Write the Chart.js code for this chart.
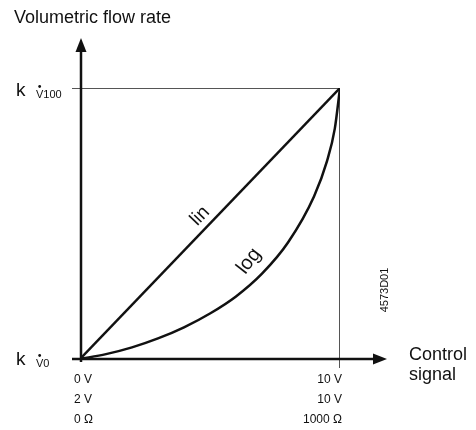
<!DOCTYPE html>
<html><head><meta charset="utf-8">
<script src="https://cdn.jsdelivr.net/npm/chart.js@4/dist/chart.umd.min.js"></script>
<style>html,body{margin:0;padding:0;background:#fff;overflow:hidden}</style>
</head><body>
<canvas id="c" width="476" height="430" style="width:476px;height:430px;display:block"></canvas>
<script>
// Data (control signal 0..10, flow 0..100 %)
const linX = [0, 10];
const linY = [0, 100];
const logX = [0, 1, 2, 3, 4, 5, 6, 7, 8, 9, 9.5, 9.8, 10];
const logY = [0, 1.8, 4.3, 7.6, 11.7, 16.8, 23.1, 31.5, 43, 60, 73, 85, 100];
const xStartLabels = ['0 V', '2 V', '0 Ω'];
const xEndLabels = ['10 V', '10 V', '1000 Ω'];
const yTopSub = '100';
const yBottomSub = '0';
const seriesNames = ['lin', 'log'];
const yTitle = 'Volumetric flow rate';
const xTitle = ['Control', 'signal'];
const docId = '4573D01';

const FF = '"Liberation Sans", Arial, sans-serif';

const overlay = {
  id: 'overlay',
  beforeDatasetsDraw(chart) {
    const ctx = chart.ctx, xs = chart.scales.x, ys = chart.scales.y;
    const x0 = xs.getPixelForValue(0), x1 = xs.getPixelForValue(10);
    const y0 = ys.getPixelForValue(0), y1 = ys.getPixelForValue(100);
    ctx.save();
    // thin reference lines
    ctx.strokeStyle = '#555'; ctx.lineWidth = 1;
    ctx.beginPath();
    ctx.moveTo(x0 - 8, y1 + 0.5); ctx.lineTo(x1, y1 + 0.5);
    ctx.moveTo(x1 - 0.5, y1); ctx.lineTo(x1 - 0.5, y0 + 9);
    ctx.stroke();
    // axes
    ctx.strokeStyle = '#111'; ctx.fillStyle = '#111'; ctx.lineWidth = 2.5;
    ctx.beginPath();
    ctx.moveTo(x0 + 1, y0 + 3); ctx.lineTo(x0 + 1, y1 - 38);
    ctx.moveTo(x0 - 8, y0); ctx.lineTo(x1 + 35, y0);
    ctx.stroke();
    // arrowheads
    ctx.beginPath();
    ctx.moveTo(x0 + 1, y1 - 50); ctx.lineTo(x0 - 4.5, y1 - 36); ctx.lineTo(x0 + 6.5, y1 - 36); ctx.closePath();
    ctx.fill();
    ctx.beginPath();
    ctx.moveTo(x1 + 47, y0); ctx.lineTo(x1 + 33, y0 - 5.5); ctx.lineTo(x1 + 33, y0 + 5.5); ctx.closePath();
    ctx.fill();
    ctx.restore();
  },
  afterDatasetsDraw(chart) {
    const ctx = chart.ctx, xs = chart.scales.x, ys = chart.scales.y;
    const x0 = xs.getPixelForValue(0), x1 = xs.getPixelForValue(10);
    const y0 = ys.getPixelForValue(0), y1 = ys.getPixelForValue(100);
    ctx.save();
    ctx.fillStyle = '#111';
    ctx.textBaseline = 'alphabetic';
    // y title
    ctx.font = '18px ' + FF; ctx.textAlign = 'left';
    ctx.fillText(yTitle, 14, 23);
    // x title
    ctx.fillText(xTitle[0], 409, 360);
    ctx.fillText(xTitle[1], 409, 380);
    // k labels
    function kLabel(y, sub) {
      ctx.font = '19px ' + FF; ctx.textAlign = 'left';
      ctx.fillText('k', 16, y);
      ctx.font = '11px ' + FF;
      ctx.fillText('V', 36, y + 2);
      const vw = ctx.measureText('V').width;
      ctx.fillText(sub, 36 + vw, y + 2);
      ctx.beginPath(); ctx.arc(36 + vw / 2, y - 9.5, 1.4, 0, Math.PI * 2); ctx.fill();
    }
    kLabel(y1 + 8, yTopSub);
    kLabel(y0 + 6, yBottomSub);
    // tick labels
    ctx.font = '12px ' + FF;
    ctx.textAlign = 'left';
    xStartLabels.forEach((t, i) => ctx.fillText(t, x0 - 6, y0 + 24 + i * 20));
    ctx.textAlign = 'right';
    xEndLabels.forEach((t, i) => ctx.fillText(t, x1 + 2, y0 + 24 + i * 20));
    // series labels
    ctx.textAlign = 'center'; ctx.textBaseline = 'middle';
    ctx.save(); ctx.translate(200, 216); ctx.rotate(-46 * Math.PI / 180);
    ctx.font = '19px ' + FF; ctx.fillText(seriesNames[0], 0, 0); ctx.restore();
    ctx.save(); ctx.translate(249, 261); ctx.rotate(-52 * Math.PI / 180);
    ctx.font = '20px ' + FF; ctx.fillText(seriesNames[1], 0, 0); ctx.restore();
    // doc id
    ctx.save(); ctx.translate(385, 290); ctx.rotate(-Math.PI / 2);
    ctx.font = '11px ' + FF; ctx.fillText(docId, 0, 0); ctx.restore();
    ctx.restore();
  }
};

new Chart(document.getElementById('c'), {
  type: 'scatter',
  data: {
    datasets: [
      { label: seriesNames[0], data: linX.map((x, i) => ({ x, y: linY[i] })), showLine: true,
        borderColor: '#111', borderWidth: 2.5, pointRadius: 0, fill: false },
      { label: seriesNames[1], data: logX.map((x, i) => ({ x, y: logY[i] })), showLine: true,
        borderColor: '#111', borderWidth: 2.5, pointRadius: 0, fill: false, cubicInterpolationMode: 'monotone' }
    ]
  },
  options: {
    responsive: false, animation: false,
    layout: { padding: { left: 80, right: 136, top: 88, bottom: 71 } },
    plugins: { legend: { display: false }, tooltip: { enabled: false } },
    scales: {
      x: { type: 'linear', min: 0, max: 10, display: false },
      y: { type: 'linear', min: 0, max: 100, display: false }
    }
  },
  plugins: [overlay]
});
</script>
</body></html>
